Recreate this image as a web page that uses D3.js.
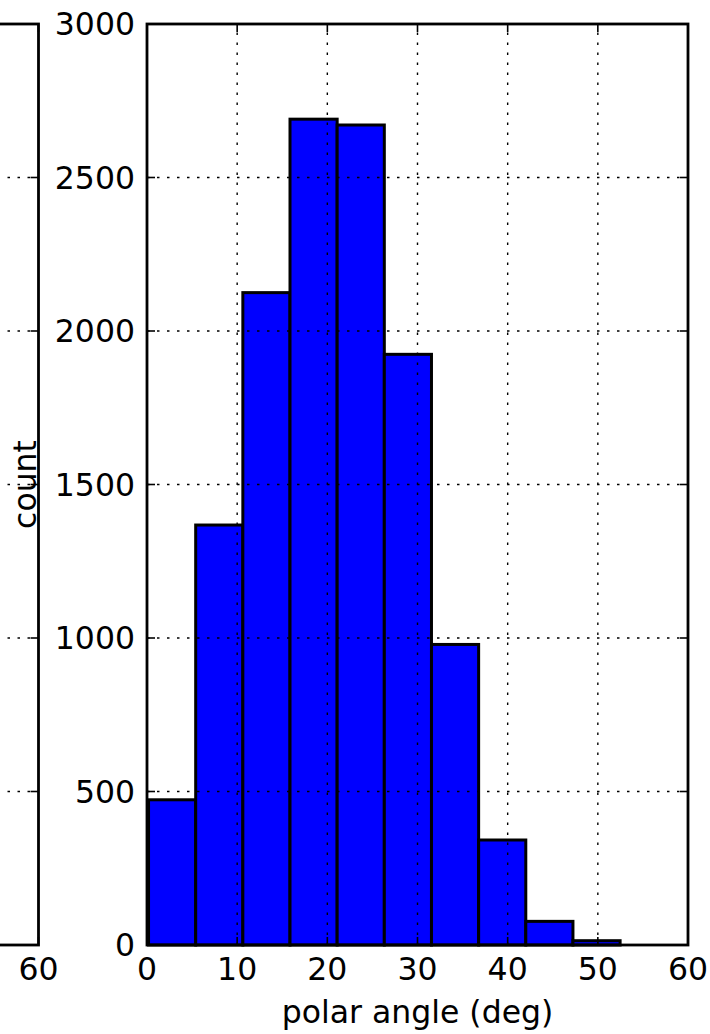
<!DOCTYPE html>
<html>
<head>
<meta charset="utf-8">
<script src="https://cdn.jsdelivr.net/npm/d3@7"></script>
<style>
  html, body { margin: 0; padding: 0; background: #fff; }
  svg { display: block; }
  text { font-family: "DejaVu Sans", sans-serif; fill: #000; }
</style>
</head>
<body>
<script>
// ---- data ----
const binEdges = [0.17, 5.40, 10.63, 15.86, 21.09, 26.32, 31.55, 36.78, 42.01, 47.24, 52.47];
const counts = [473, 1368, 2125, 2690, 2671, 1924, 979, 342, 77, 14];
const xTicks = [0, 10, 20, 30, 40, 50, 60];
const yTicks = [0, 500, 1000, 1500, 2000, 2500, 3000];
const xLabel = "polar angle (deg)";
const yLabel = "count";

const W = 710, H = 1034;
const svg = d3.select("body").append("svg").attr("width", W).attr("height", H);

const plotTop = 24, plotBottom = 945;
const mainLeft = 147, mainRight = 688;
const panelW = mainRight - mainLeft;
const leftRight = 38.5;

const y = d3.scaleLinear().domain([0, 3000]).range([plotBottom, plotTop]);
const xMain = d3.scaleLinear().domain([0, 60]).range([mainLeft, mainRight]);
const xLeft = d3.scaleLinear().domain([0, 60]).range([leftRight - panelW, leftRight]);

const fs = 31.5;

function drawFrame(g, x, showYLabels, showXLabels) {
  const [x0, x1] = x.range();
  // gridlines
  const grid = g.append("g").attr("stroke", "#000").attr("stroke-width", 1.4)
    .attr("stroke-dasharray", "2.5,7.5").attr("fill", "none");
  xTicks.forEach(t => {
    if (t === 0 || t === 60) return;
    grid.append("line").attr("x1", x(t)).attr("x2", x(t)).attr("y1", y(0)).attr("y2", y(3000));
  });
  yTicks.forEach(t => {
    if (t === 0 || t === 3000) return;
    grid.append("line").attr("x1", x0).attr("x2", x1).attr("y1", y(t)).attr("y2", y(t));
  });
  // ticks inward on all sides
  const tk = g.append("g").attr("stroke", "#000").attr("stroke-width", 1.6);
  const tl = 8;
  xTicks.forEach(t => {
    tk.append("line").attr("x1", x(t)).attr("x2", x(t)).attr("y1", y(0)).attr("y2", y(0) - tl);
    tk.append("line").attr("x1", x(t)).attr("x2", x(t)).attr("y1", y(3000)).attr("y2", y(3000) + tl);
  });
  yTicks.forEach(t => {
    tk.append("line").attr("x1", x0).attr("x2", x0 + tl).attr("y1", y(t)).attr("y2", y(t));
    tk.append("line").attr("x1", x1).attr("x2", x1 - tl).attr("y1", y(t)).attr("y2", y(t));
  });
  // spines
  g.append("rect").attr("x", x0).attr("y", y(3000)).attr("width", x1 - x0).attr("height", y(0) - y(3000))
    .attr("fill", "none").attr("stroke", "#000").attr("stroke-width", 2.8);
  if (showXLabels) {
    g.append("g").selectAll("text").data(xTicks.filter(d => x(d) > 20 && x(d) < W - 20)).join("text")
      .attr("x", d => x(d)).attr("y", 980).attr("text-anchor", "middle")
      .attr("font-size", fs).text(d => d);
  }
  if (showYLabels) {
    g.append("g").selectAll("text").data(yTicks).join("text")
      .attr("x", x0 - 12).attr("y", d => y(d)).attr("dy", "0.36em").attr("text-anchor", "end")
      .attr("font-size", fs).text(d => d);
  }
}

// left (cut-off) panel
const gLeft = svg.append("g");
drawFrame(gLeft, xLeft, false, true);

// main panel
const gMain = svg.append("g");
const bins = counts.map((c, i) => ({ x0: binEdges[i], x1: binEdges[i + 1], c }));
gMain.append("g").selectAll("rect").data(bins).join("rect")
  .attr("x", d => xMain(d.x0)).attr("width", d => xMain(d.x1) - xMain(d.x0))
  .attr("y", d => y(d.c)).attr("height", d => y(0) - y(d.c))
  .attr("fill", "#0000ff").attr("stroke", "#000").attr("stroke-width", 3);
drawFrame(gMain, xMain, true, true);

// axis labels
svg.append("text").attr("x", (mainLeft + mainRight) / 2).attr("y", 1023)
  .attr("text-anchor", "middle").attr("font-size", fs).text(xLabel);
svg.append("text").attr("transform", `translate(36,${(plotTop + plotBottom) / 2}) rotate(-90)`)
  .attr("text-anchor", "middle").attr("font-size", fs).text(yLabel);
</script>
</body>
</html>
